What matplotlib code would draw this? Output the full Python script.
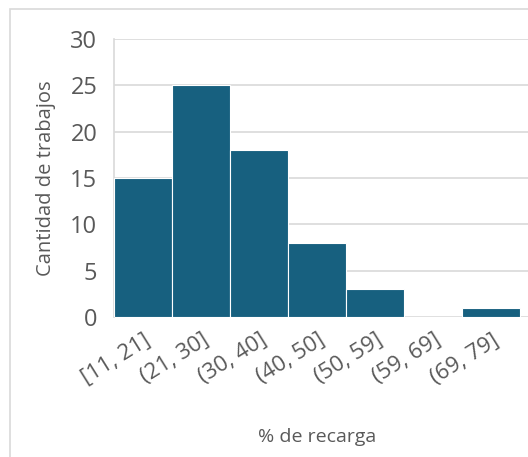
import matplotlib.pyplot as plt
from matplotlib.patches import Rectangle
import numpy as np

bins = ["[11, 21]", "(21, 30]", "(30, 40]", "(40, 50]", "(50, 59]", "(59, 69]", "(69, 79]"]
counts = [15, 25, 18, 8, 3, 0, 1]

plt.rcParams['font.family'] = ['Open Sans', 'DejaVu Sans']
W, H = 528, 457
fig = plt.figure(figsize=(W / 100, H / 100), dpi=100)

# chart area border
fig.patches.append(Rectangle((10 / W, -0.1), 1.2, 1 - 9 / H + 0.1, transform=fig.transFigure,
                             fill=False, edgecolor='#d9d9d9', linewidth=1.2))

left, right, top, bottom = 114, 528, 39, 317
ax = fig.add_axes([left / W, 1 - bottom / H, (right - left) / W, (bottom - top) / H])

x = np.arange(len(bins))
ax.bar(x + 0.5, counts, width=1.0, color='#17607f', edgecolor='white', linewidth=0.8, zorder=3)

ax.set_xlim(0, 7 * (right - left) / 406)
ax.set_ylim(0, 30)
ax.set_yticks(range(0, 31, 5))
ax.yaxis.grid(True, color='#d9d9d9', linewidth=1.2, zorder=0)
for s in ['top', 'right', 'bottom']:
    ax.spines[s].set_visible(False)
ax.spines['left'].set_color('#d9d9d9')
ax.spines['left'].set_linewidth(1.2)
ax.tick_params(axis='both', length=0, labelcolor='#595959')
ax.tick_params(axis='y', pad=12, labelsize=17)

ax.set_xticks(x + 0.5)
ax.set_xticklabels(bins, rotation=32, ha='right', rotation_mode='anchor')
ax.tick_params(axis='x', pad=9, labelsize=16)

ax.set_ylabel("Cantidad de trabajos", fontsize=14.5, color='#595959', labelpad=10)
fig.text(317 / W, 1 - 437 / H, "% de recarga", fontsize=14, color='#595959', ha='center', va='center')

fig.savefig("out.png", dpi=100)
